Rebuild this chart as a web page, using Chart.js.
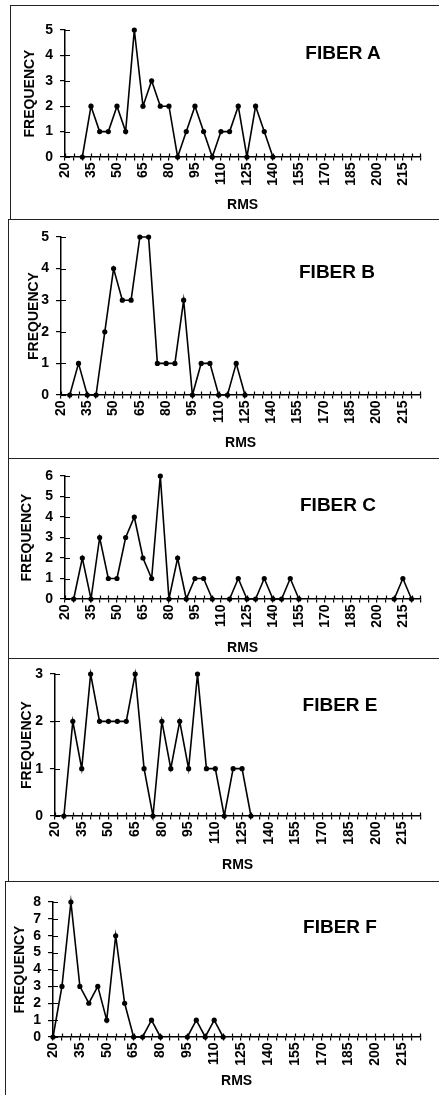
<!DOCTYPE html>
<html lang="en">
<head>
<meta charset="UTF-8">
<title>RMS frequency by fiber</title>
<script src="https://cdn.jsdelivr.net/npm/chart.js"></script>
<style>
  body { margin: 0; background: #fff; width: 439px; height: 1095px; overflow: hidden; position: relative;
         font-family: "Liberation Sans", Arial, sans-serif; }
  .frame { position: absolute; width: 470px; border-left: 1px solid #222; border-top: 1px solid #222; box-sizing: border-box; }
  canvas { position: absolute; left: 0; }
  .fiber { position: absolute; font-weight: bold; font-size: 19px; white-space: nowrap; transform: translate(-50%, -50%); color: #000; }
</style>
</head>
<body>
<script>
  // RMS categories (x axis), one every 5
  const rms = [20, 25, 30, 35, 40, 45, 50, 55, 60, 65, 70, 75, 80, 85, 90, 95, 100, 105, 110, 115,
               120, 125, 130, 135, 140, 145, 150, 155, 160, 165, 170, 175, 180, 185, 190, 195, 200, 205,
               210, 215, 220, 225];

  // frequencies, null = no point
  const fiberA = [null, null, 0, 2, 1, 1, 2, 1, 5, 2, 3, 2, 2, 0, 1, 2, 1, 0, 1, 1, 2, 0, 2, 1, 0,
                  null, null, null, null, null, null, null, null, null, null, null, null, null, null, null, null, null];
  const fiberB = [null, 0, 1, 0, 0, 2, 4, 3, 3, 5, 5, 1, 1, 1, 3, 0, 1, 1, 0, 0, 1, 0,
                  null, null, null, null, null, null, null, null, null, null, null, null, null, null, null, null, null, null, null, null];
  const fiberC = [null, 0, 2, 0, 3, 1, 1, 3, 4, 2, 1, 6, 0, 2, 0, 1, 1, 0, null, 0, 1, 0, 0, 1, 0, 0, 1, 0,
                  null, null, null, null, null, null, null, null, null, null, 0, 1, 0, null];
  const fiberE = [null, 0, 2, 1, 3, 2, 2, 2, 2, 3, 1, 0, 2, 1, 2, 1, 3, 1, 1, 0, 1, 1, 0,
                  null, null, null, null, null, null, null, null, null, null, null, null, null, null, null, null, null, null, null];
  const fiberF = [0, 3, 8, 3, 2, 3, 1, 6, 2, 0, 0, 1, 0, null, null, 0, 1, 0, 1, 0,
                  null, null, null, null, null, null, null, null, null, null, null, null, null, null, null, null, null, null, null, null, null, null];

  const yMaxes = [5, 5, 6, 3, 8];
  const names = ['FIBER A', 'FIBER B', 'FIBER C', 'FIBER E', 'FIBER F'];
  const series = [fiberA, fiberB, fiberC, fiberE, fiberF];

  // page layout of each panel
  const layout = [
    { top: 5,   bottom: 219,  border: 10, axisX: 65, xEnd: 430, yTop: 30,  y0: 157,  labX: 343, labY: 53,  rmsY: 205,  freqX: 30 },
    { top: 219, bottom: 458,  border: 8,  axisX: 61, xEnd: 427, yTop: 237, y0: 395,  labX: 337, labY: 272, rmsY: 443,  freqX: 34 },
    { top: 458, bottom: 658,  border: 8,  axisX: 65, xEnd: 428, yTop: 476, y0: 599,  labX: 338, labY: 505, rmsY: 648,  freqX: 27 },
    { top: 658, bottom: 881,  border: 8,  axisX: 55, xEnd: 427, yTop: 674, y0: 816,  labX: 340, labY: 705, rmsY: 865,  freqX: 27 },
    { top: 881, bottom: 1095, border: 5,  axisX: 53, xEnd: 424, yTop: 902, y0: 1037, labX: 340, labY: 927, rmsY: 1081, freqX: 20 }
  ];

  const bold = size => ({ family: '"Liberation Sans", Arial, sans-serif', weight: 'bold', size: size });

  // ticks that cross the axis lines (the inner half)
  const crossTicks = {
    id: 'crossTicks',
    beforeDatasetsDraw(chart) {
      const { ctx, chartArea, scales: { x, y } } = chart;
      ctx.save();
      ctx.strokeStyle = '#000';
      ctx.lineWidth = 1.2;
      ctx.beginPath();
      x.ticks.forEach((t, i) => {
        const px = Math.round(x.getPixelForTick(i)) + 0.5;
        ctx.moveTo(px, chartArea.bottom);
        ctx.lineTo(px, chartArea.bottom - 3.5);
      });
      y.ticks.forEach((t, i) => {
        const py = Math.round(y.getPixelForTick(i)) + 0.5;
        ctx.moveTo(chartArea.left, py);
        ctx.lineTo(chartArea.left + 5, py);
      });
      ctx.stroke();
      ctx.restore();
    }
  };

  layout.forEach((p, n) => {
    const h = p.bottom - p.top;

    const frame = document.createElement('div');
    frame.className = 'frame';
    frame.style.left = p.border + 'px';
    frame.style.top = p.top + 'px';
    frame.style.height = h + 'px';
    document.body.appendChild(frame);

    const canvas = document.createElement('canvas');
    canvas.width = 439;
    canvas.height = h;
    canvas.style.top = p.top + 'px';
    document.body.appendChild(canvas);

    const lab = document.createElement('div');
    lab.className = 'fiber';
    lab.textContent = names[n];
    lab.style.left = p.labX + 'px';
    lab.style.top = p.labY + 'px';
    document.body.appendChild(lab);

    const padLeft = p.freqX - 8.4;
    const xBottom = p.rmsY - p.top + 8.4;

    new Chart(canvas, {
      type: 'line',
      data: {
        labels: rms,
        datasets: [{
          data: series[n],
          borderColor: '#000',
          borderWidth: 1.6,
          pointRadius: 2.6,
          pointBackgroundColor: '#000',
          pointBorderColor: '#000',
          pointBorderWidth: 0,
          tension: 0,
          spanGaps: false,
          clip: false
        }]
      },
      options: {
        responsive: false,
        animation: false,
        events: [],
        layout: { padding: { left: padLeft, top: p.yTop - p.top, right: 439 - p.xEnd, bottom: h - xBottom } },
        plugins: { legend: { display: false }, tooltip: { enabled: false } },
        scales: {
          x: {
            offset: false,
            grid: { drawOnChartArea: false, color: '#000', lineWidth: 1.2, tickLength: 3.5 },
            border: { color: '#000', width: 1.5 },
            ticks: {
              autoSkip: false, maxRotation: 90, minRotation: 90, padding: 2, color: '#000', font: bold(14),
              callback: (v, i) => (i % 3 === 0 ? rms[i] : '')
            },
            title: { display: true, text: 'RMS', color: '#000', font: bold(14), padding: 0 },
            afterFit: s => { s.height = xBottom - (p.y0 - p.top); }
          },
          y: {
            min: 0, max: yMaxes[n],
            grid: { drawOnChartArea: false, color: '#000', lineWidth: 1.2, tickLength: 5 },
            border: { color: '#000', width: 1.5 },
            ticks: { stepSize: 1, autoSkip: false, padding: 7, color: '#000', font: bold(14) },
            title: { display: true, text: 'FREQUENCY', color: '#000', font: bold(14), padding: 0 },
            afterFit: s => { s.width = p.axisX - padLeft; }
          }
        }
      },
      plugins: [crossTicks]
    });
  });
</script>
</body>
</html>
